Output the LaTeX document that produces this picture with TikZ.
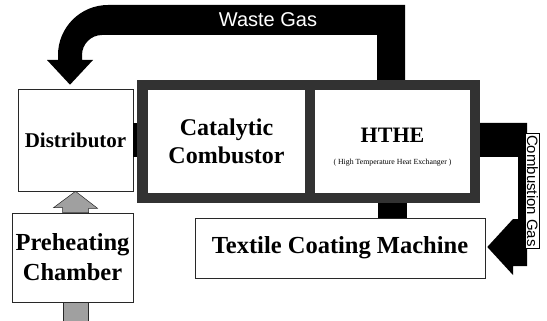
\documentclass[tikz,border=0pt]{standalone}
\usepackage{fontspec}
\setmainfont{Liberation Serif}
\setsansfont{Liberation Sans}
\usepackage{xcolor}
\usepackage{tikz}
\usetikzlibrary{calc}
\definecolor{figline}{RGB}{40,40,40}
\definecolor{figframe}{RGB}{50,50,50}
\definecolor{figfeed}{RGB}{160,160,160}
\tikzset{
  blk/.style   ={draw=figline, line width=0.6pt, fill=white, align=center, inner sep=0pt},
  inbox/.style ={fill=white, align=center, inner sep=0pt},
  frm/.style   ={fill=figframe, inner sep=0pt},
  gas/.style   ={fill=black},
  feed/.style  ={draw=figline, line width=0.5pt, fill=figfeed},
  lab/.style   ={inner sep=0pt},
  wglab/.style ={text=white, inner sep=0pt, font=\sffamily\fontsize{20}{20}\selectfont},
  cglab/.style ={draw=black, line width=0.8pt, fill=white, inner sep=1.5pt, font=\sffamily\fontsize{15}{15}\selectfont},
}
\begin{document}
\begin{tikzpicture}[x=1pt,y=-1pt]
  \useasboundingbox (0,0) rectangle (547,321);
  % reactor unit
  \node[frm,minimum width=343pt,minimum height=123pt] (frame) at (308.5,141.5) {};
  \node[inbox,minimum width=157pt,minimum height=103pt,font=\fontsize{24}{28}\selectfont\bfseries] (cat) at (226.5,141.5) {Catalytic\\Combustor};
  \node[inbox,minimum width=155pt,minimum height=103pt] (hthe) at (392.5,141.5) {};
  \node[lab,font=\fontsize{22}{22}\selectfont\bfseries] (htheT) at ([yshift=6pt]hthe.center) {HTHE};
  \node[lab,font=\fontsize{7.8}{8}\selectfont] (htheS) at ([yshift=-21.5pt]hthe.center) {( High Temperature Heat Exchanger )};
  % outer boxes
  \node[blk,minimum width=115pt,minimum height=102pt,font=\fontsize{21}{24}\selectfont\bfseries] (dist) at (75.5,140) {Distributor};
  \node[blk,minimum width=121pt,minimum height=89pt,font=\fontsize{24.5}{30}\selectfont\bfseries] (pre) at (72.5,257.5) {Preheating\\Chamber};
  \node[blk,minimum width=290pt,minimum height=60pt,font=\fontsize{24.5}{28}\selectfont\bfseries] (tcm) at (340,248) {Textile Coating Machine};
  % gas links
  \fill[gas] ($(dist.east)+(0,-17)$) rectangle ($(frame.west)+(0,15.5)$);
  \fill[gas] ($(hthe.south |- frame.south)+(-14.5,0)$) rectangle ($(hthe.south |- tcm.north)+(14.5,0)$);
  \fill[gas] (377,80) -- (377,35) -- (102,35) .. controls (91,35) and (82,44) .. (82,55) -- (82,60) -- (93,60)
    -- ($(dist.north)+(-5.5,-4)$) -- (47,60) -- (58,60) -- (58,55) .. controls (58,27.4) and (80.4,5) .. (108,5)
    -- (405,5) -- (405,80) -- cycle;
  \node[wglab] (wglbl) at (268,20) {Waste Gas};
  \fill[gas] ($(frame.east)+(0,-18.5)$) -- (527,123) -- (527,266) -- (513,266) -- (513,275)
    -- ($(tcm.east)+(2,-1)$) -- (513,219) -- (518,219) -- (518,157) -- ($(frame.east)+(0,15.5)$) -- cycle;
  \node[cglab,rotate=-90] (cglbl) at (532.5,191) {Combustion Gas};
  % feed arrows
  \filldraw[feed] (dist.south) -- ++(22,17) -- ++(-9,0) -- ($(pre.north -| dist.south)+(13,0)$)
    -- ($(pre.north -| dist.south)+(-13,0)$) -- ++(0,-5) -- ++(-9,0) -- cycle;
  \filldraw[feed] ($(pre.south -| dist.south)+(-12.5,0)$) rectangle ++(25,20);
\end{tikzpicture}
\end{document}
